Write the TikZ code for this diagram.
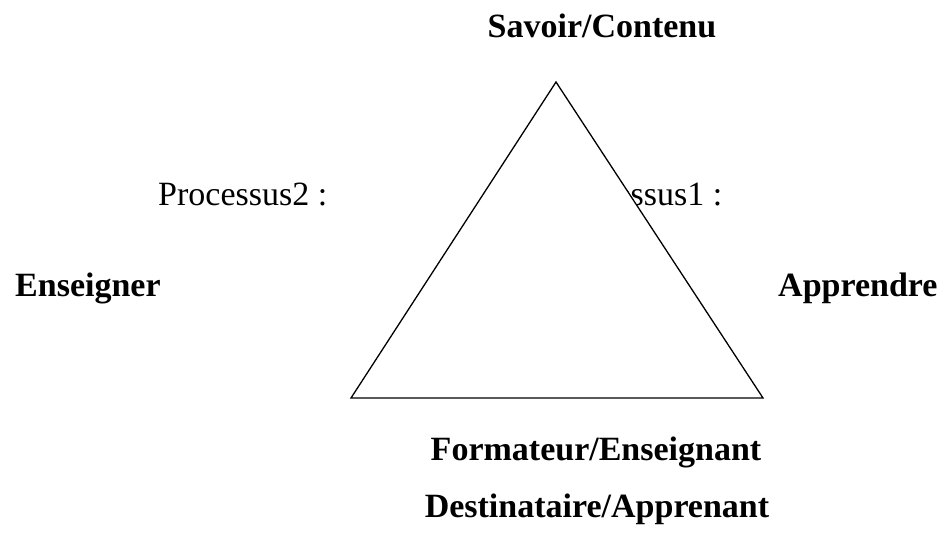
\documentclass[tikz,border=0pt]{standalone}
\usepackage{fontspec}
\setmainfont{Liberation Serif}
\begin{document}
\begin{tikzpicture}[x=1pt,y=-1pt,
  lbl/.style={inner sep=0pt,font=\fontsize{34}{40}\selectfont},
  blbl/.style={inner sep=0pt,font=\fontsize{34}{40}\selectfont\bfseries},
  tri/.style={draw=black,line width=1.3pt,fill=white,line join=miter}]
\useasboundingbox[fill=white] (0,0) rectangle (944,538);
\node[blbl,anchor=base] (savoir) at (602,37) {Savoir/Contenu};
\node[lbl,anchor=base west] (p2) at (158,205) {Processus2 :};
\node[lbl,anchor=base west] (p1) at (553,205) {Processus1 :};
\node[blbl,anchor=base west] (ens) at (15,296) {Enseigner};
\node[blbl,anchor=base west] (app) at (778,296) {Apprendre};
\node[blbl,anchor=base] (form) at (596,460) {Formateur/Enseignant};
\node[blbl,anchor=base] (dest) at (597,517) {Destinataire/Apprenant};
\coordinate (top) at (556,82);
\coordinate (bl) at (351,398);
\coordinate (br) at (763,398);
\draw[tri] (top) -- (br) -- (bl) -- cycle;
\end{tikzpicture}
\end{document}
